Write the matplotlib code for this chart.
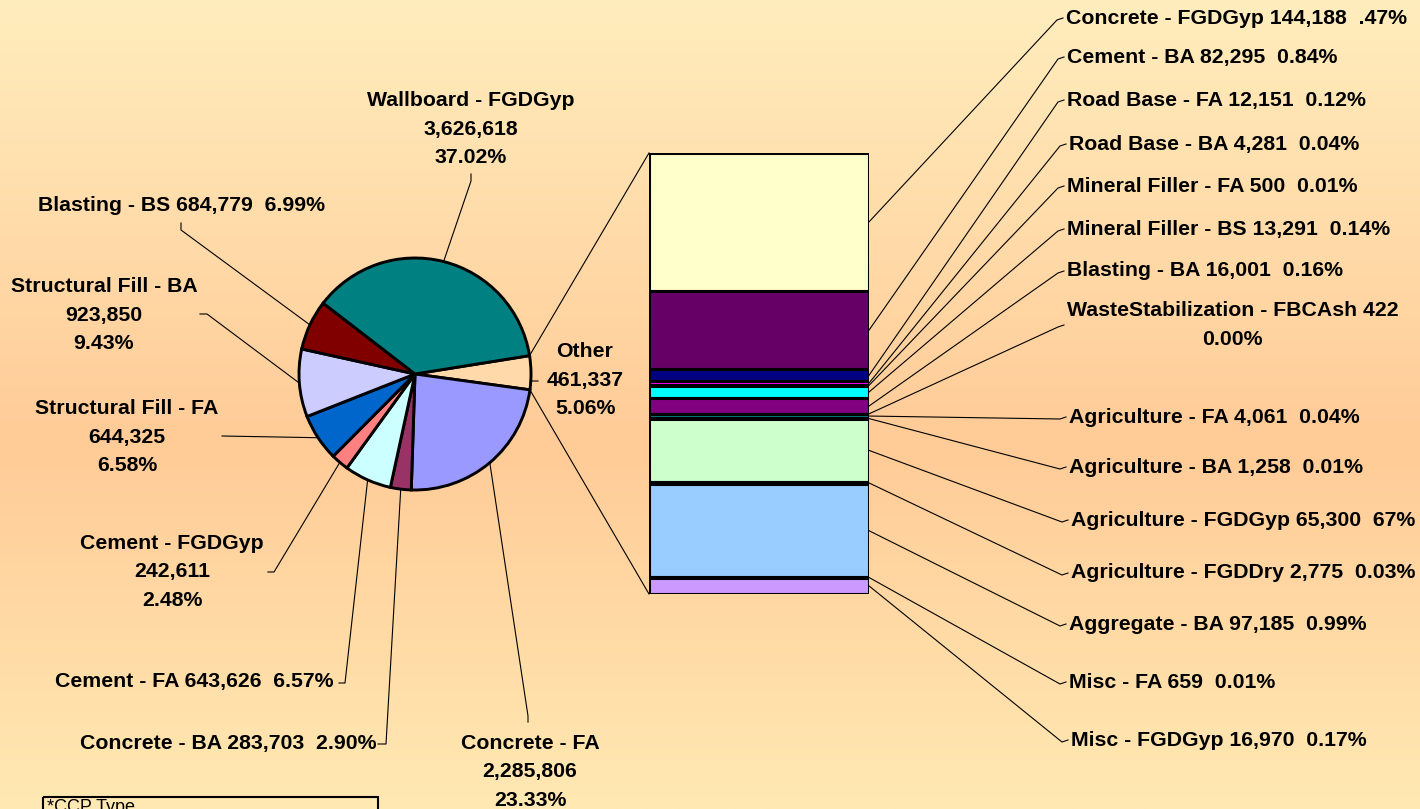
#!/usr/bin/env python3
import matplotlib
matplotlib.use("Agg")
import matplotlib.pyplot as plt
import numpy as np
from matplotlib.colors import to_rgb
from matplotlib.patches import Rectangle

W, H = 1420, 809

# pie slices, clockwise starting with the "Other" slice
pie_names = ["Other", "Concrete - FA", "Concrete - BA", "Cement - FA", "Cement - FGDGyp",
             "Structural Fill - FA", "Structural Fill - BA", "Blasting - BS",
             "Wallboard - FGDGyp"]
pie_values = [461337, 2285806, 283703, 643626, 242611, 644325, 923850, 684779, 3626618]
pie_pcts = ["5.06%", "23.33%", "2.90%", "6.57%", "2.48%", "6.58%", "9.43%", "6.99%", "37.02%"]
pie_colors = ["#FFD9AA", "#9999FF", "#993366", "#CCFFFF", "#FF8080", "#0066CC",
              "#CCCCFF", "#800000", "#008080"]

# breakdown of "Other", top of the bar to bottom
bar_names = ["Concrete - FGDGyp", "Cement - BA", "Road Base - FA", "Road Base - BA",
             "Mineral Filler - FA", "Mineral Filler - BS", "Blasting - BA",
             "WasteStabilization - FBCAsh", "Agriculture - FA", "Agriculture - BA",
             "Agriculture - FGDGyp", "Agriculture - FGDDry", "Aggregate - BA",
             "Misc - FA", "Misc - FGDGyp"]
bar_values = [144188, 82295, 12151, 4281, 500, 13291, 16001, 422, 4061, 1258,
              65300, 2775, 97185, 659, 16970]
bar_pcts = [".47%", "0.84%", "0.12%", "0.04%", "0.01%", "0.14%", "0.16%", "0.00%",
            "0.04%", "0.01%", "67%", "0.03%", "0.99%", "0.01%", "0.17%"]
bar_colors = ["#FFFFCC", "#660066", "#000080", "#FF00FF", "#FFFF00", "#00FFFF",
              "#800080", "#800000", "#008080", "#0000FF", "#CCFFCC", "#FFFF99",
              "#99CCFF", "#FF99CC", "#CC99FF"]

# label layout in pixels (y down): text centre, single/stacked, leader elbow and end
pie_label_pos = [
    (585, 380, True, (531, 381), (538, 381)),
    (530, 772, True, (528, 716), (528, 722)),
    (228, 743, False, (386, 744), (378, 744)),
    (194, 682, False, (345, 683), (339, 683)),
    (172, 572, True, (274, 572), (268, 572)),
    (127, 437, True, (222, 436), (222, 436)),
    (104, 315, True, (207, 314), (200, 314)),
    (181, 205, False, (181, 230), (181, 223)),
    (471, 129, True, (471, 181), (471, 174)),
]
bar_label_pos = [(1066, 18), (1067, 57), (1067, 100), (1069, 144), (1067, 186),
                 (1067, 229), (1067, 271), (1067, 325), (1069, 417), (1069, 467),
                 (1071, 520), (1071, 573), (1069, 624), (1069, 682), (1071, 740)]

FONT = ["Liberation Sans", "DejaVu Sans"]
FS = 15.3
LSP = 1.62

fig = plt.figure(figsize=(W / 100, H / 100), dpi=100)

# background: vertical gradient, light at the edges, orange in the middle
bg = fig.add_axes([0, 0, 1, 1], zorder=-2)
stops_y = [0.0, 0.55, 1.0]
stops_c = [to_rgb("#FFEDBD"), to_rgb("#FFCB97"), to_rgb("#FFE9B3")]
yy = np.linspace(0, 1, 400)
grad = np.stack([np.interp(yy, stops_y, [c[i] for c in stops_c]) for i in range(3)], axis=-1)
bg.imshow(grad[:, None, :], aspect="auto", extent=(0, 1, 1, 0))
bg.set_axis_off()

# main axes in pixel coordinates, y pointing down
ax = fig.add_axes([0, 0, 1, 1])
ax.patch.set_alpha(0)

# with y inverted, counter-clockwise in data is clockwise on screen
explode = [0, 0, 0, 0, 0, 0, 0, 0, 0.015]
wedges, _ = ax.pie(pie_values, colors=pie_colors, center=(415, 374), radius=116,
                   startangle=-9.1, counterclock=True, explode=explode,
                   wedgeprops=dict(edgecolor="black", linewidth=2.1), frame=True)
ax.set_xlim(0, W)
ax.set_ylim(H, 0)
ax.set_aspect("auto")
ax.set_axis_off()

for i, w in enumerate(wedges):
    mid = np.deg2rad((w.theta1 + w.theta2) / 2)
    ax0 = w.center[0] + w.r * np.cos(mid)
    ay0 = w.center[1] + w.r * np.sin(mid)
    tx, ty, stacked, elbow, end = pie_label_pos[i]
    ax.plot([ax0, elbow[0], end[0]], [ay0, elbow[1], end[1]], color="black", lw=0.8)
    if stacked:
        txt = f"{pie_names[i]}\n{pie_values[i]:,}\n{pie_pcts[i]}"
    else:
        txt = f"{pie_names[i]} {pie_values[i]:,}  {pie_pcts[i]}"
    ax.text(tx, ty, txt, ha="center", va="center", fontsize=FS, fontweight="bold",
            family=FONT, linespacing=LSP)

# stacked bar for "Other"
bar_left, bar_top, bar_w, bar_h = 649, 153, 220, 441
bax = fig.add_axes([bar_left / W, (H - bar_top - bar_h) / H, bar_w / W, bar_h / H])
total = sum(bar_values)
bottoms = np.concatenate([[0], np.cumsum(bar_values)[:-1]])
bax.bar(0, bar_values, bottom=bottoms, width=1, color=bar_colors,
        edgecolor="black", linewidth=2.2)
bax.set_xlim(-0.5, 0.5)
bax.set_ylim(total, 0)
bax.set_axis_off()

# connectors from the "Other" slice to the bar
other = wedges[0]
to_main = ax.transData.inverted()
for theta, by in [(other.theta1, 0), (other.theta2, total)]:
    px = other.center[0] + other.r * np.cos(np.deg2rad(theta))
    py = other.center[1] + other.r * np.sin(np.deg2rad(theta))
    bx, byy = to_main.transform(bax.transData.transform((-0.5, by)))
    ax.plot([px, bx], [py, byy], color="black", lw=0.8)

for i, name in enumerate(bar_names):
    mid = bottoms[i] + bar_values[i] / 2
    sx, sy = to_main.transform(bax.transData.transform((0.5, mid)))
    tx, ty = bar_label_pos[i]
    ax.plot([sx, tx - 9, tx - 3], [sy, ty + 2, ty], color="black", lw=0.8)
    if name.startswith("WasteStabilization"):
        txt = f"{name} {bar_values[i]:,}\n{bar_pcts[i]}"
    else:
        txt = f"{name} {bar_values[i]:,}  {bar_pcts[i]}"
    ax.text(tx, ty, txt, ha="left", va="center", fontsize=FS, fontweight="bold",
            family=FONT, linespacing=LSP, multialignment="center")

# legend box cut off at the bottom edge, as in the original
ax.add_patch(Rectangle((43, 797), 335, 40, facecolor="none", edgecolor="black",
                       lw=1.5, clip_on=False))
ax.text(47, 799, "*CCP Type", ha="left", va="top", fontsize=13, family=FONT)

fig.savefig("out.png", dpi=100)
